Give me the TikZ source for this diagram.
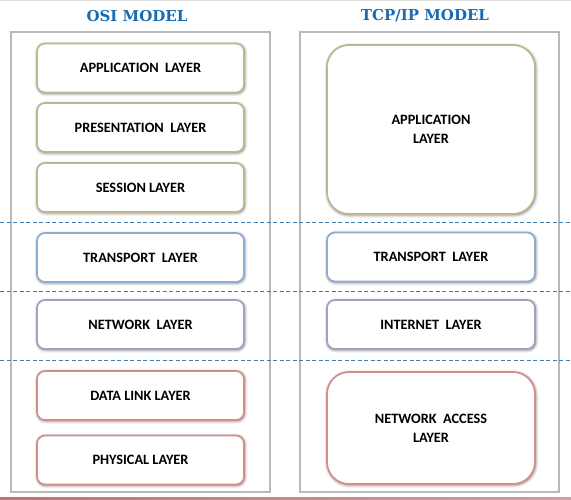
\documentclass[tikz,border=0pt]{standalone}
\usepackage{fontspec}
\setmainfont{Carlito}
\newfontfamily\headfont{DejaVu Serif}
\usepackage{tikz}
\usetikzlibrary{shadows.blur}

\definecolor{headblue}{RGB}{24,106,178}
\definecolor{sepblue}{RGB}{62,128,178}
\definecolor{tanline}{RGB}{190,182,140}
\definecolor{blueline}{RGB}{140,172,212}
\definecolor{purpleline}{RGB}{172,154,195}
\definecolor{redline}{RGB}{214,140,139}
\definecolor{framegray}{RGB}{185,185,185}
\definecolor{barred}{RGB}{196,112,112}

\tikzset{
    layer/.style={rectangle, draw, fill=white, rounded corners=8pt, line width=1.7pt,
        minimum width=207pt, minimum height=49pt, align=center,
        font=\bfseries\fontsize{14.3}{19}\selectfont,
        blur shadow={shadow xshift=0.6pt, shadow yshift=-0.9pt, shadow blur radius=3pt, shadow opacity=60}},
    bigbox/.style={layer, rounded corners=22pt},
    frame/.style={draw=framegray, line width=2pt},
    heading/.style={text=headblue, font=\headfont\bfseries\fontsize{15}{17}\selectfont},
    divider/.style={sepblue, line width=0.9pt, dash pattern=on 4pt off 2.5pt}
}

\begin{document}
\begin{tikzpicture}[x=1pt, y=-1pt]
        \useasboundingbox (0,0) rectangle (571,500);
        \fill[gray!25] (0,0) rectangle (571,1.5);
        \shade[left color=barred, right color=barred!70] (0,497.5) rectangle (571,500);
        % the two columns
        \draw[frame] (11,32) rectangle (270,492);
        \draw[frame] (300,32) rectangle (559,492);
        \node[heading] (osi) at (137,16) {OSI MODEL};
        \node[heading] (tcp) at (425,16) {TCP/IP MODEL};
        % level separators
        \draw[divider] (0,222.5) -- (571,222.5);
        \draw[divider] (0,291.7) -- (571,291.7);
        \draw[divider] (0,360.5) -- (571,360.5);
        % OSI
        \node[layer, draw=tanline] (app) at (140.5,68) {APPLICATION~ LAYER};
        \node[layer, draw=tanline] (pres) at (140.5,127.5) {PRESENTATION~ LAYER};
        \node[layer, draw=tanline] (sess) at (140.5,187.5) {SESSION LAYER};
        \node[layer, draw=blueline] (trans) at (140.5,257.5) {TRANSPORT~ LAYER};
        \node[layer, draw=purpleline] (net) at (140.5,324.5) {NETWORK~ LAYER};
        \node[layer, draw=redline] (link) at (140.5,395.5) {DATA LINK LAYER};
        \node[layer, draw=redline] (phys) at (140.5,460) {PHYSICAL LAYER};
        % TCP/IP
        \node[bigbox, draw=tanline, minimum width=208pt, minimum height=169pt] (tapp) at (431,129.5) {APPLICATION\\LAYER};
        \node[layer, draw=blueline, minimum width=208pt] (ttrans) at (431,257) {TRANSPORT~ LAYER};
        \node[layer, draw=purpleline, minimum width=208pt] (tnet) at (431,324.5) {INTERNET~ LAYER};
        \node[bigbox, draw=redline, minimum width=208pt, minimum height=112pt] (tacc) at (431,428) {NETWORK~ ACCESS\\LAYER};
    \end{tikzpicture}
\end{document}
